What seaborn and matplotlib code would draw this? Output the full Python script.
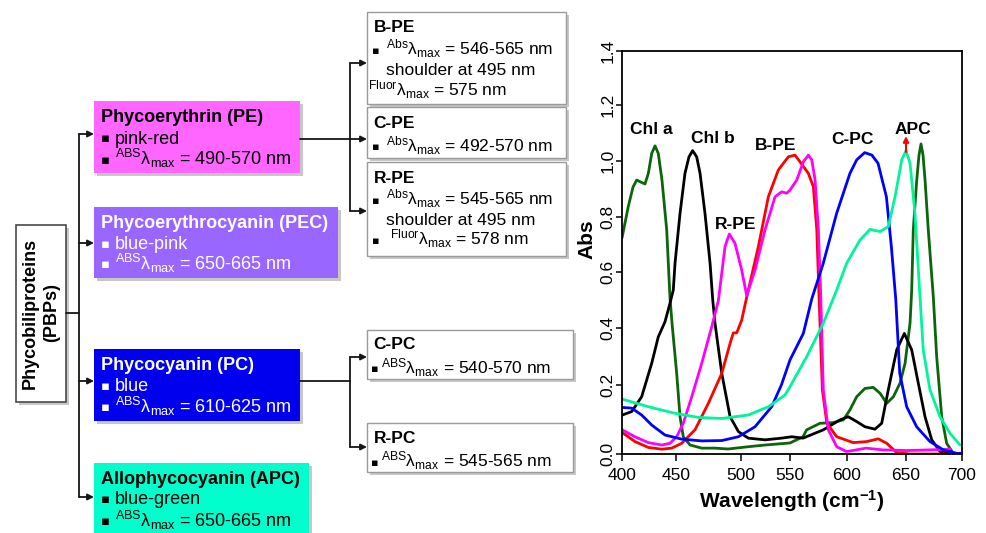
import numpy as np
import pandas as pd
import matplotlib
matplotlib.use("Agg")
import matplotlib.pyplot as plt
import matplotlib.patches as mpatches
import seaborn as sns

# ---------------- spectrum data (wavelength nm, absorbance) ----------------
chla_wl = [400.0, 405.8, 410.2, 413.6, 416.7, 421.3, 424.4, 427.5, 430.6, 433.6,
           437.0, 441.4, 444.4, 446.3, 450.5, 453.1, 455.6, 460.8, 469.8, 480.0,
           490.0, 507.1, 524.5, 550.0, 561.4, 564.6, 576.3, 588.0, 596.8, 602.5,
           608.2, 615.2, 622.3, 628.0, 633.7, 639.3, 644.9, 649.2, 653.6, 655.1,
           656.5, 659.6, 661.6, 663.4, 665.2, 667.0, 669.9, 674.4, 677.4, 681.9,
           686.3, 692.2, 698.2]
chla_abs = [0.724, 0.837, 0.907, 0.932, 0.926, 0.918, 0.956, 1.027, 1.054, 1.027,
            0.932, 0.753, 0.510, 0.418, 0.242, 0.108, 0.050, 0.026, 0.017, 0.017,
            0.0145, 0.021, 0.026, 0.032, 0.050, 0.070, 0.089, 0.091, 0.099, 0.128,
            0.166, 0.190, 0.193, 0.176, 0.147, 0.166, 0.206, 0.276, 0.417, 0.536,
            0.753, 0.932, 1.021, 1.061, 1.021, 0.932, 0.753, 0.510, 0.299, 0.108,
            0.031, 0.002, 0.0]

chlb_wl = [400.3, 409.0, 418.2, 427.5, 433.6, 439.8, 444.4, 447.5, 449.1, 453.1,
           456.9, 460.0, 462.8, 465.9, 468.5, 472.3, 476.2, 478.3, 480.0, 485.2,
           491.6, 498.0, 507.4, 524.5, 541.5, 551.5, 561.4, 579.2, 593.9, 601.1,
           608.2, 615.2, 623.7, 629.4, 635.0, 642.1, 648.6, 655.1, 661.0, 667.0,
           673.0, 680.4, 689.3, 698.2]
chlb_abs = [0.113, 0.123, 0.166, 0.276, 0.369, 0.422, 0.488, 0.536, 0.632, 0.813,
            0.956, 1.015, 1.037, 1.015, 0.956, 0.813, 0.632, 0.498, 0.417, 0.241,
            0.108, 0.065, 0.046, 0.041, 0.046, 0.050, 0.046, 0.070, 0.099, 0.108,
            0.094, 0.079, 0.072, 0.089, 0.186, 0.323, 0.381, 0.323, 0.206, 0.108,
            0.041, 0.007, 0.0, 0.0]

rpe_wl = [400.3, 412.0, 424.4, 436.8, 444.4, 450.5, 455.6, 462.1, 469.8, 477.5,
          482.6, 487.7, 491.0, 495.4, 500.7, 505.8, 514.3, 524.5, 534.7, 541.5,
          546.6, 550.0, 555.9, 561.7, 566.1, 569.1, 572.0, 574.9, 577.0, 579.2,
          583.6, 591.0, 599.7, 616.1, 630.2, 650.6, 671.4, 689.3]
rpe_abs = [0.070, 0.050, 0.033, 0.026, 0.031, 0.050, 0.089, 0.166, 0.276, 0.405,
           0.498, 0.692, 0.738, 0.704, 0.607, 0.516, 0.607, 0.753, 0.872, 0.890,
           0.885, 0.896, 0.932, 0.997, 1.021, 1.004, 0.932, 0.753, 0.510, 0.186,
           0.070, 0.021, 0.007, 0.017, 0.012, 0.010, 0.012, 0.014]

bpe_wl = [400.3, 412.0, 424.4, 436.8, 446.0, 454.4, 464.6, 474.9, 485.2, 491.6,
          494.1, 496.7, 500.7, 505.8, 517.7, 527.9, 538.1, 548.3, 554.4, 558.8,
          566.1, 570.5, 573.5, 575.5, 578.4, 582.3, 591.0, 605.3, 616.7, 626.5,
          633.7, 642.1, 653.6, 671.4, 689.3, 698.2]
bpe_abs = [0.062, 0.036, 0.019, 0.014, 0.017, 0.031, 0.070, 0.147, 0.241, 0.346,
           0.383, 0.383, 0.428, 0.510, 0.692, 0.872, 0.968, 1.015, 1.021, 0.997,
           0.956, 0.908, 0.753, 0.510, 0.186, 0.089, 0.050, 0.033, 0.036, 0.044,
           0.031, 0.004, 0.0, 0.0, 0.0, 0.0]

cpc_wl = [400.3, 409.0, 418.2, 427.5, 439.8, 454.4, 469.8, 485.2, 498.0, 514.3,
          531.3, 541.2, 550.0, 561.7, 569.1, 579.2, 590.9, 602.5, 608.2, 615.0,
          621.1, 626.3, 633.4, 637.6, 641.3, 644.7, 650.6, 659.5, 671.4, 683.3,
          695.3, 700.0]
cpc_abs = [0.135, 0.133, 0.113, 0.084, 0.055, 0.043, 0.038, 0.039, 0.050, 0.079,
           0.137, 0.200, 0.288, 0.381, 0.504, 0.632, 0.813, 0.956, 1.004, 1.030,
           1.021, 0.992, 0.872, 0.692, 0.504, 0.241, 0.137, 0.079, 0.036, 0.012,
           0.002, 0.002]

apc_wl = [400.3, 424.4, 449.1, 467.2, 485.2, 507.4, 527.9, 544.9, 550.0, 564.6,
          579.2, 591.0, 599.7, 611.0, 619.5, 628.0, 635.0, 640.7, 646.4, 650.0,
          653.6, 658.0, 662.5, 665.4, 671.4, 680.4, 689.3, 698.2]
apc_abs = [0.159, 0.137, 0.118, 0.106, 0.103, 0.113, 0.137, 0.171, 0.195, 0.299,
           0.417, 0.536, 0.632, 0.716, 0.755, 0.747, 0.765, 0.872, 1.004, 1.037,
           0.992, 0.813, 0.510, 0.323, 0.186, 0.108, 0.060, 0.026]

pigments = ["Chl a", "Chl b", "B-PE", "R-PE", "C-PC", "APC"]
series_wl = [chla_wl, chlb_wl, bpe_wl, rpe_wl, cpc_wl, apc_wl]
series_abs = [chla_abs, chlb_abs, bpe_abs, rpe_abs, cpc_abs, apc_abs]
pigment_colors = ["#0b650b", "#000000", "#ff0000", "#ff00ff", "#0000ff", "#00f59a"]

# curve labels (text, wavelength, abs)
label_text = ["Chl a", "Chl b", "B-PE", "R-PE", "C-PC", "APC"]
label_wl = [427.5, 478.2, 535.4, 495.9, 604.5, 656.0]
label_abs = [1.111, 1.081, 1.057, 0.771, 1.077, 1.113]

x_ticks = [400, 450, 500, 550, 600, 650, 700]
y_ticks = [0.0, 0.2, 0.4, 0.6, 0.8, 1.0, 1.2, 1.4]
y_tick_labels = ["0.0", "0.2", "0.4", "0.6", "0.8", "1.0", "1.2", "1.4"]

# ---------------- diagram texts ----------------
root_text = "Phycobiliproteins\n(PBPs)"
main_titles = ["Phycoerythrin (PE)", "Phycoerythrocyanin (PEC)",
               "Phycocyanin (PC)", "Allophycocyanin (APC)"]
main_colours_txt = ["pink-red", "blue-pink", "blue", "blue-green"]
main_ranges = ["490-570 nm", "650-665 nm", "610-625 nm", "650-665 nm"]

# ---------------- style ----------------
sns.set_theme(style="ticks")
plt.rcParams["font.family"] = ["Liberation Sans", "DejaVu Sans"]
plt.rcParams["mathtext.fontset"] = "custom"
plt.rcParams["mathtext.rm"] = "Liberation Sans"
plt.rcParams["mathtext.it"] = "Liberation Sans:italic"
plt.rcParams["mathtext.bf"] = "Liberation Sans:bold"
for k in ["text.color", "axes.labelcolor", "xtick.color", "ytick.color", "axes.edgecolor"]:
    plt.rcParams[k] = "black"

fig = plt.figure(figsize=(9.87, 5.33), dpi=100)
fig.patch.set_facecolor("white")

# overlay axes in pixel coordinates for the diagram
bg = fig.add_axes([0, 0, 1, 1])
bg.set_xlim(0, 987)
bg.set_ylim(533, 0)
bg.axis("off")

LINE_C = "#161616"


def shadow_box(x, y, w, h, fc, ec=None, lw=0.0):
    bg.add_patch(mpatches.Rectangle((x + 3, y + 3), w, h, facecolor="#9a9a9a",
                                    edgecolor="none", alpha=0.55, zorder=1))
    bg.add_patch(mpatches.Rectangle((x, y), w, h, facecolor=fc,
                                    edgecolor=ec if ec else "none", linewidth=lw, zorder=2))


def arrow(x0, x1, y):
    bg.annotate("", xy=(x1, y), xytext=(x0, y),
                arrowprops=dict(arrowstyle="-|>", color=LINE_C, lw=1.3,
                                mutation_scale=9, shrinkA=0, shrinkB=0), zorder=3)


def txt(x, y, s, size, color="black", weight="normal"):
    bg.text(x, y, s, fontsize=size, color=color, fontweight=weight,
            ha="left", va="baseline", zorder=4)


def bullet(x, y, size, color="black"):
    bg.text(x, y, "\u25aa", fontsize=size, color=color, ha="center", va="baseline",
            family="DejaVu Sans", zorder=4)


# root box
shadow_box(16, 225, 50, 177, "white", ec="#4a4a4a", lw=1.2)
bg.text(41, 313, root_text, rotation=90, fontsize=13, fontweight="bold",
        ha="center", va="center", multialignment="center", linespacing=1.3, zorder=4)

# main boxes
main_geo = [(94, 101, 206, 72), (94, 207, 244, 71), (94, 349, 206, 72), (94, 463, 215, 80)]
main_fc = ["#ff66ff", "#9966ff", "#0000ee", "#00ffcc"]
main_tc = ["black", "white", "white", "black"]
main_base = [(122, 143.5, 165), (227.5, 249, 270), (370, 391, 412.5), (483.5, 504.5, 526.5)]
for i in range(4):
    x, y, w, h = main_geo[i]
    shadow_box(x, y, w, h, main_fc[i])
    b0, b1, b2 = main_base[i]
    tc = main_tc[i]
    txt(101, b0, main_titles[i], 13, tc, "bold")
    bullet(105, b1 - 1.5, 9.5, tc)
    txt(115, b1, main_colours_txt[i], 13, tc)
    bullet(105, b2 - 1.5, 9.5, tc)
    txt(115, b2, r"$^{\mathrm{ABS}}\mathrm{\lambda}_{\mathrm{max}}$ = " + main_ranges[i], 13, tc)

# connectors from root
bg.plot([66, 79], [313, 313], color=LINE_C, lw=1.3, zorder=3)
bg.plot([79, 79], [134, 497], color=LINE_C, lw=1.3, zorder=3)
for yy in [134, 243, 381, 497]:
    arrow(79, 94, yy)

# sub boxes
sub_geo = [(367, 12, 199, 92), (367, 107, 199, 51), (367, 162, 199, 94),
           (367, 330, 206, 49), (367, 423, 206, 49)]
for (x, y, w, h) in sub_geo:
    shadow_box(x, y, w, h, "white", ec="#9a9a9a", lw=1.0)

SZ = 12.5
BS = 8
# B-PE
txt(373.5, 32, "B-PE", 12.5, weight="bold")
bullet(376, 53.5, BS)
txt(386, 54.7, r"$^{\mathrm{Abs}}\mathrm{\lambda}_{\mathrm{max}}$ = 546-565 nm", SZ)
txt(386, 74.7, "shoulder at 495 nm", SZ)
txt(368.5, 95.3, r"$^{\mathrm{Fluor}}\mathrm{\lambda}_{\mathrm{max}}$ = 575 nm", SZ)
# C-PE
txt(373.5, 128, "C-PE", 12.5, weight="bold")
bullet(376, 150.5, BS)
txt(386, 151.7, r"$^{\mathrm{Abs}}\mathrm{\lambda}_{\mathrm{max}}$ = 492-570 nm", SZ)
# R-PE
txt(373.5, 183.3, "R-PE", 12.5, weight="bold")
bullet(376, 203.8, BS)
txt(386, 205, r"$^{\mathrm{Abs}}\mathrm{\lambda}_{\mathrm{max}}$ = 545-565 nm", SZ)
txt(386, 225, "shoulder at 495 nm", SZ)
bullet(376, 243.8, BS)
txt(390, 245, r"$^{\mathrm{Fluor}}\mathrm{\lambda}_{\mathrm{max}}$ = 578 nm", SZ)
# C-PC
txt(373.5, 349.3, "C-PC", 12.5, weight="bold")
bullet(375, 372.1, BS)
txt(381, 373.3, r"$^{\mathrm{ABS}}\mathrm{\lambda}_{\mathrm{max}}$ = 540-570 nm", SZ)
# R-PC
txt(373.5, 443.3, "R-PC", 12.5, weight="bold")
bullet(375, 465.5, BS)
txt(381, 466.7, r"$^{\mathrm{ABS}}\mathrm{\lambda}_{\mathrm{max}}$ = 545-565 nm", SZ)

# connectors PE -> sub, PC -> sub
bg.plot([300, 350], [139, 139], color=LINE_C, lw=1.3, zorder=3)
bg.plot([350, 350], [63, 211], color=LINE_C, lw=1.3, zorder=3)
for yy in [63, 139, 211]:
    arrow(350, 367, yy)
bg.plot([300, 350], [381, 381], color=LINE_C, lw=1.3, zorder=3)
bg.plot([350, 350], [357, 447], color=LINE_C, lw=1.3, zorder=3)
for yy in [357, 447]:
    arrow(350, 367, yy)

# ---------------- spectrum plot ----------------
ax = fig.add_axes([622 / 987, 1 - 454 / 533, 340 / 987, 403 / 533])

frames = []
for name, wl, ab in zip(pigments, series_wl, series_abs):
    frames.append(pd.DataFrame({"Wavelength": wl, "Abs": ab, "Pigment": name}))
df = pd.concat(frames, ignore_index=True)

sns.lineplot(data=df, x="Wavelength", y="Abs", hue="Pigment", hue_order=pigments,
             palette=dict(zip(pigments, pigment_colors)), estimator=None, sort=False,
             legend=False, linewidth=2.0, ax=ax)
for ln in ax.get_lines():
    ln.set_solid_joinstyle("round")

# the reference axis has uneven tick spacing; reproduce it with a function scale
x_tick_pos = [0, 54, 119, 168, 225, 284, 340]
y_tick_pos = [0, 69, 126, 182, 237, 293, 349, 403]
ax.set_xscale("function", functions=(lambda v: np.interp(v, x_ticks, x_tick_pos),
                                     lambda v: np.interp(v, x_tick_pos, x_ticks)))
ax.set_yscale("function", functions=(lambda v: np.interp(v, y_ticks, y_tick_pos),
                                     lambda v: np.interp(v, y_tick_pos, y_ticks)))
ax.set_xlim(400, 700)
ax.set_ylim(0, 1.4)
ax.set_xticks(x_ticks)
ax.set_xticklabels([str(t) for t in x_ticks])
ax.set_yticks(y_ticks)
ax.set_yticklabels(y_tick_labels)
ax.minorticks_off()

for sp in ax.spines.values():
    sp.set_visible(True)
    sp.set_color("black")
    sp.set_linewidth(1.3)

ax.tick_params(axis="x", direction="out", length=5, width=1.1, pad=5, labelsize=12.5)
ax.tick_params(axis="y", direction="out", length=4, width=1.1, pad=0.5, labelsize=12.5,
               labelrotation=90)
for lab in ax.get_yticklabels():
    lab.set_va("center")

ax.set_xlabel(r"Wavelength (cm$^{\mathbf{-1}}$)", fontsize=15, fontweight="bold")
ax.set_ylabel("Abs", fontsize=15, fontweight="bold")
ax.xaxis.set_label_coords(0.5, -0.084)
ax.yaxis.set_label_coords(-0.075, 0.533)

for s, xw, ya in zip(label_text, label_wl, label_abs):
    ax.text(xw, ya, s, ha="center", va="center", fontsize=12.5, fontweight="bold")

ax.annotate("", xy=(650, 1.089), xytext=(650, 1.032),
            arrowprops=dict(arrowstyle="-|>", color="red", lw=1.5,
                            mutation_scale=8, shrinkA=0, shrinkB=0))

fig.savefig("out.png", dpi=100, facecolor="white")
